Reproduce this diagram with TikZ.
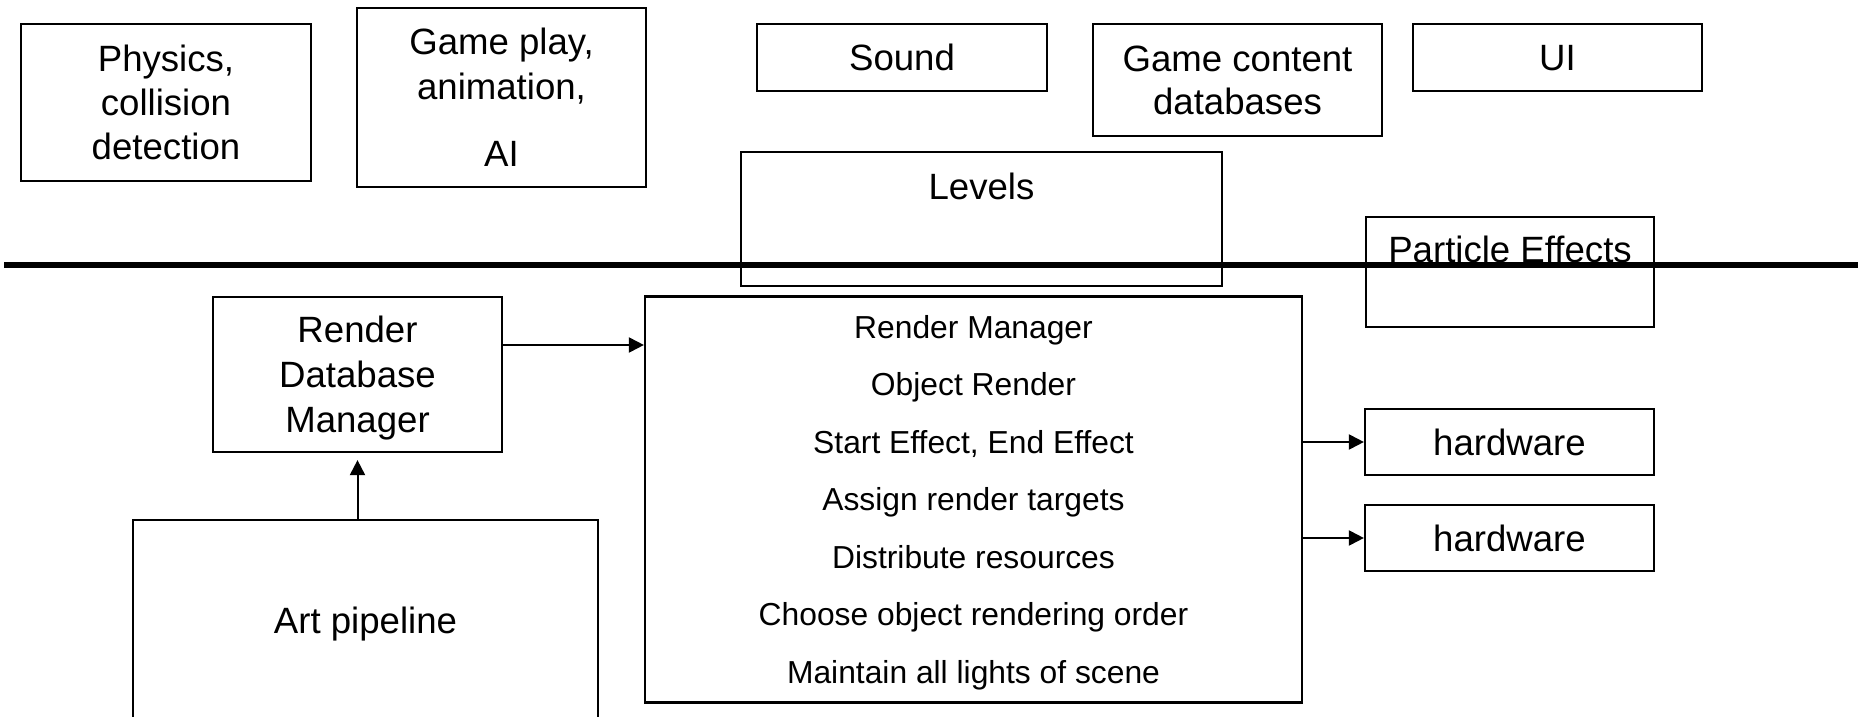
\documentclass[tikz,border=0pt]{standalone}
\usepackage{fontspec}
\newfontfamily\arialfam{Liberation Sans}
\usetikzlibrary{arrows.meta}
\newcommand\topfont{\arialfam\fontsize{18.3pt}{22pt}\selectfont}
\newcommand\rmfont{\arialfam\fontsize{15.9pt}{28.75pt}\selectfont}
\newcommand\sr{\rule[-0.22em]{0pt}{1.16em}}
\begin{document}
\begin{tikzpicture}[x=0.5pt,y=-0.5pt,
  box/.style={draw, line width=1.1pt, inner sep=0pt, align=center, font=\topfont},
  txt/.style={inner sep=0pt, font=\topfont},
  arr/.style={line width=1pt, -{Triangle[length=7.5pt,width=7.5pt]}},
  sepline/.style={line width=2.8pt}]
\useasboundingbox (0,0) rectangle (1858,717);
\fill[white] (0,0) rectangle (1858,717);
\clip (0,0) rectangle (1858,717);

% top row
\node[box, minimum width=145pt, minimum height=78.5pt] (phys) at (166,102.5)
  {\sr Physics,\\\sr collision\\\sr detection};
\node[box, minimum width=144.5pt, minimum height=89.5pt] (game) at (501.5,97.5)
  {\sr Game play,\\[0.5pt]\sr animation,\\[11.5pt]\sr AI};
\node[box, minimum width=145pt, minimum height=33.5pt] (sound) at (902,57.5) {\sr Sound};
\node[box, minimum width=144.5pt, minimum height=56pt] (gcdb) at (1237.5,80)
  {\sr Game content\\[-0.5pt]\sr databases};
\node[box, minimum width=144.5pt, minimum height=33.5pt] (ui) at (1557.5,57.5) {\sr UI};

% levels and particle effects
\node[box, minimum width=240.5pt, minimum height=67pt] (levels) at (981.5,219) {};
\node[txt, anchor=base] (levelsT) at (981.5,199) {Levels};
\node[box, minimum width=144pt, minimum height=55pt] (pe) at (1510,272) {};
\node[txt, anchor=base] (peT) at (1510,262) {Particle Effects};

% lower part
\node[box, minimum width=144.5pt, minimum height=77.5pt] (rdm) at (357.5,374.5)
  {\sr Render\\[0.5pt]\sr Database\\[0.5pt]\sr Manager};
\node[box, font=\rmfont, minimum width=328.5pt, minimum height=203pt] (rm) at (973.5,499.5)
  {\sr Render Manager\\\sr Object Render\\\sr Start Effect, End Effect\\\sr Assign render targets\\\sr Distribute resources\\\sr Choose object rendering order\\\sr Maintain all lights of scene};
\node[box, minimum width=232.5pt, minimum height=120pt] (art) at (365.5,640) {};
\node[txt, anchor=base] (artT) at (365.5,633) {Art pipeline};
\node[box, minimum width=144.5pt, minimum height=33pt] (hw1) at (1509.5,442) {\sr hardware};
\node[box, minimum width=144.5pt, minimum height=33pt] (hw2) at (1509.5,538) {\sr hardware};

% connectors
\coordinate (rdmOut) at ([yshift=14.75pt]rdm.east);
\draw[arr] (rdmOut) -- (rdmOut -| rm.west);
\draw[arr] (hw1.west -| rm.east) -- (hw1.west);
\draw[arr] (hw2.west -| rm.east) -- (hw2.west);
\draw[arr, shorten >=3.5pt] (art.north -| rdm.south) -- (rdm.south);

% separator line
\coordinate (sepL) at (4,265);
\coordinate (sepR) at (1870,265);
\draw[sepline] (sepL) -- (sepR);
\end{tikzpicture}
\end{document}
